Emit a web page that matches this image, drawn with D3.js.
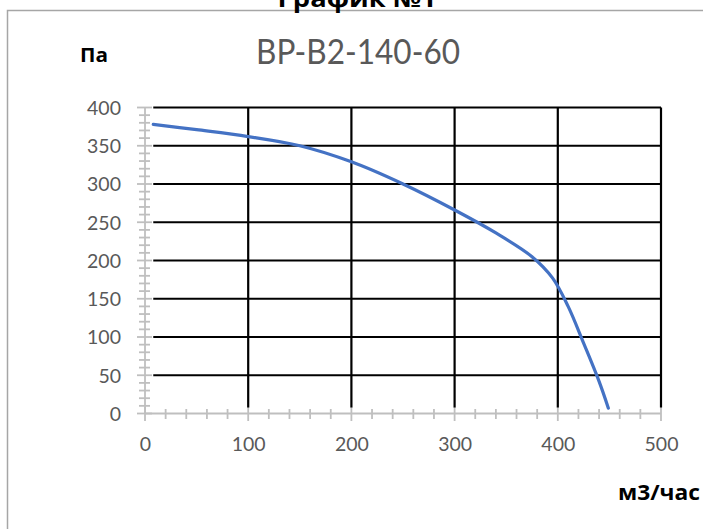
<!DOCTYPE html>
<html><head><meta charset="utf-8">
<script src="https://cdn.jsdelivr.net/npm/d3@7"></script>
<style>html,body{margin:0;padding:0;background:#fff;overflow:hidden}</style>
</head><body>
<svg id="c" width="703" height="529"></svg>
<script>
const flow = [8, 50, 100, 150, 200, 250, 300, 340, 375, 395, 410, 425, 440, 449];
const pressure = [378, 371, 362, 350, 329, 300, 266, 236, 205, 177, 140, 92, 42, 7];
const xTicks = [0, 100, 200, 300, 400, 500];
const yTicks = [0, 50, 100, 150, 200, 250, 300, 350, 400];
const gridStart = 8;
const chartTitle = "BP-B2-140-60";
const pageTitle = "График №1";
const yUnit = "Па";
const xUnit = "м3/час";

const svg = d3.select("#c");
const x = d3.scaleLinear().domain([0, 500]).range([145, 661]);
const y = d3.scaleLinear().domain([0, 400]).range([413.5, 107.5]);
const font = "Lato, 'Open Sans', sans-serif";
const boldFont = "'Open Sans', Lato, sans-serif";

// outer frame
svg.append("path").attr("d", "M7.5,529 V10.5 H703")
  .attr("fill", "none").attr("stroke", "#a6a6a6").attr("stroke-width", 1.5);

// page title (cut off at top, as in the reference)
svg.append("text").attr("x", 357).attr("y", 7).attr("text-anchor", "middle")
  .attr("font-family", boldFont).attr("font-weight", "bold").attr("font-size", 23)
  .attr("textLength", 159).attr("lengthAdjust", "spacingAndGlyphs").text(pageTitle);

// chart title
svg.append("text").attr("x", 358).attr("y", 64).attr("text-anchor", "middle")
  .attr("font-family", font).attr("font-size", 34).attr("fill", "#595959")
  .attr("textLength", 204).attr("lengthAdjust", "spacingAndGlyphs").text(chartTitle);

svg.append("text").attr("x", 80).attr("y", 61.5)
  .attr("font-family", boldFont).attr("font-weight", "bold").attr("font-size", 19)
  .attr("textLength", 28).attr("lengthAdjust", "spacingAndGlyphs").text(yUnit);
svg.append("text").attr("x", 700).attr("y", 499.5).attr("text-anchor", "end")
  .attr("font-family", boldFont).attr("font-weight", "bold").attr("font-size", 21)
  .attr("textLength", 82).attr("lengthAdjust", "spacingAndGlyphs").text(xUnit);

// minor + major ticks and axis lines
const tickColor = "#bfbfbf";
const yMinor = d3.range(0, 401, 10);
const xMinor = d3.range(0, 501, 20);
const ax = svg.append("g").attr("stroke", tickColor).attr("stroke-width", 1.8);
ax.selectAll(".ym").data(yMinor).join("line")
  .attr("x1", d => d % 50 === 0 ? 137 : 139).attr("x2", d => d % 50 === 0 ? 152 : 150)
  .attr("y1", d => y(d)).attr("y2", d => y(d));
ax.selectAll(".xm").data(xMinor).join("line")
  .attr("y1", d => d % 100 === 0 ? 407 : 409).attr("y2", d => d % 100 === 0 ? 421 : 419)
  .attr("x1", d => x(d)).attr("x2", d => x(d));
ax.append("line").attr("x1", x(0)).attr("x2", x(0)).attr("y1", y(400)).attr("y2", y(0));
ax.append("line").attr("x1", x(0)).attr("x2", x(500)).attr("y1", y(0)).attr("y2", y(0));

// gridlines
const grid = svg.append("g").attr("stroke", "#000").attr("stroke-width", 2.2);
grid.selectAll(".h").data(yTicks.filter(d => d > 0)).join("line")
  .attr("x1", x(gridStart)).attr("x2", x(500)).attr("y1", d => y(d)).attr("y2", d => y(d));
grid.selectAll(".v").data(xTicks.filter(d => d > 0)).join("line")
  .attr("y1", y(gridStart)).attr("y2", y(400)).attr("x1", d => x(d)).attr("x2", d => x(d));

// tick labels
const yAxis = d3.axisLeft(y).tickValues(yTicks).tickSize(0).tickPadding(0);
const gy = svg.append("g").attr("transform", "translate(121,0)").call(yAxis);
gy.select(".domain").remove();
gy.selectAll("text").attr("font-family", font).attr("font-size", 19.5).attr("fill", "#595959").attr("dy", "0.35em");

const xAxis = d3.axisBottom(x).tickValues(xTicks).tickSize(0).tickPadding(0);
const gx = svg.append("g").attr("transform", "translate(0,437)").call(xAxis);
gx.select(".domain").remove();
gx.selectAll("text").attr("font-family", font).attr("font-size", 19.5).attr("fill", "#595959").attr("dy", "0.71em");

// curve
const pts = flow.map((f, i) => [f, pressure[i]]);
svg.append("path").datum(pts)
  .attr("fill", "none").attr("stroke", "#4472c4").attr("stroke-width", 3.2)
  .attr("stroke-linecap", "round")
  .attr("d", d3.line().x(d => x(d[0])).y(d => y(d[1])).curve(d3.curveCatmullRom));
</script>
</body></html>
